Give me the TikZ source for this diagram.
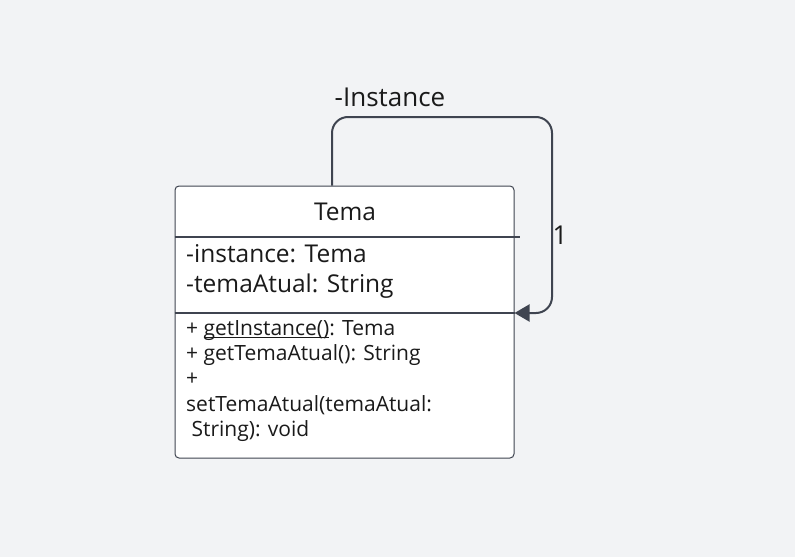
\documentclass[tikz,border=0pt]{standalone}
\usepackage{fontspec}
\setmainfont{Open Sans}
\usetikzlibrary{positioning,arrows.meta,calc}
\definecolor{bgcol}{HTML}{F2F3F5}
\definecolor{linecol}{HTML}{3F4450}
\definecolor{textcol}{HTML}{1A1A1A}

\begin{document}
\begin{tikzpicture}[x=1pt,y=-1pt,>=Stealth,
		every node/.style={text=textcol,inner sep=0pt},
		classbox/.style={draw=linecol,line width=1pt,fill=white,rounded corners=4pt,minimum width=339pt,minimum height=272pt},
		divider/.style={draw=linecol,line width=1.6pt},
		link/.style={draw=linecol,line width=2pt,rounded corners=16pt},
		big/.style={font=\fontsize{24.5}{30}\selectfont},
		small/.style={font=\fontsize{21}{25.2}\selectfont},
		]
		
		% Background
		\fill[bgcol] (0,0) rectangle (795,557);
		\useasboundingbox (0,0) rectangle (795,557);
		
		% Class
		\node[classbox] (tema) at (344.5,322) {};
		\node[big] (name) at (345,212) {Tema};
		\node[big,align=left,anchor=west] (attrs) at (186,271)
		{-instance: Tema\\-temaAtual: String};
		\node[small,align=left,anchor=west] (ops) at (186,381)
		{+ \underline{\smash{getInstance()}}: Tema\\+ getTemaAtual(): String\\+\\setTemaAtual(temaAtual:\\\ String): void};
		
		\draw[divider] (tema.west |- 0,237) -- (520,237);
		\draw[divider] (tema.west |- 0,313) -- (tema.east |- 0,313);
		
		% Self association
		\coordinate (selfout) at (tema.north -| 332,0);
		\coordinate (selfin) at (tema.east |- 0,313);
		\draw[link,-{Triangle[length=15pt,width=17pt]}] (selfout) -- (332,117) -- (552,117) -- (552,313) -- (selfin);
		
		\node[big,font=\fontsize{26}{30}\selectfont] (instlabel) at (390,97) {-Instance};
		\node[big,font=\fontsize{26}{30}\selectfont] (multlabel) at (560,235) {1};
		
	\end{tikzpicture}
\end{document}
